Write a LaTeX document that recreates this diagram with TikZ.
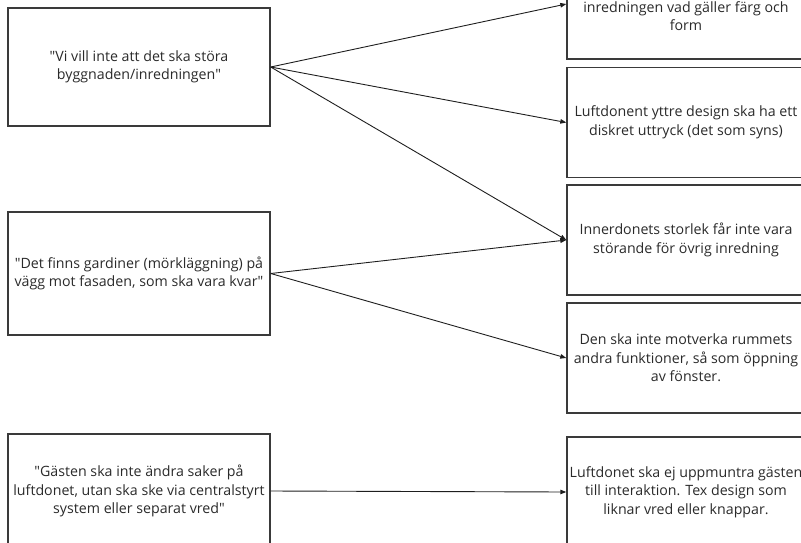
\documentclass[tikz,border=0pt]{standalone}
\usepackage{fontspec}
\setmainfont{Open Sans}
\usetikzlibrary{arrows.meta}
\definecolor{boxink}{HTML}{2A2A2A}
\definecolor{boxline}{HTML}{3A3A3A}
\definecolor{linkink}{HTML}{1E1E1E}
\tikzset{
  quotetext/.style={font=\fontsize{14.2}{18.5}\selectfont, text=boxink, align=center},
  quotebox/.style={quotetext, draw=boxline, line width=1.4pt, inner sep=0pt,
    minimum width=262pt, minimum height=118pt},
  needbox/.style={quotebox, minimum width=238pt, minimum height=110pt},
  needlink/.style={-{Triangle[length=6pt,width=4.5pt]}, draw=linkink, line width=.9pt}
}
\begin{document}
\begin{tikzpicture}[x=1pt,y=-1pt]
  \useasboundingbox (0,0) rectangle (801,542);
  \clip (0,0) rectangle (801,542);

  % quotes
  \node[quotebox] (q1) at (139,67)
    {\textquotedbl Vi vill inte att det ska störa\\byggnaden/inredningen\textquotedbl};
  \node[quotebox, minimum height=123pt] (q2) at (139,273.5)
    {\textquotedbl Det finns gardiner (mörkläggning) på\\vägg mot fasaden, som ska vara kvar\textquotedbl};
  \node[quotebox, minimum height=114pt] (q3) at (139,491)
    {\textquotedbl Gästen ska inte ändra saker på\\luftdonet, utan ska ske via centralstyrt\\system eller separat vred\textquotedbl};

  % needs
  \node[needbox] (r1) at (686,4) {};
  \node[quotetext] (r1text) at (686,16) {inredningen vad gäller färg och\\form};
  \node[needbox] (r2) at (686,122.5) {Luftdonent yttre design ska ha ett\\diskret uttryck (det som syns)};
  \node[needbox] (r3) at (686,240) {Innerdonets storlek får inte vara\\störande för övrig inredning};
  \node[needbox] (r4) at (686,358) {Den ska inte motverka rummets\\andra funktioner, så som öppning\\av fönster.};
  \node[needbox] (r5) at (686,492) {Luftdonet ska ej uppmuntra gästen\\till interaktion. Tex design som\\liknar vred eller knappar.};

  \foreach \from/\to in {q1/r1,q1/r2,q1/r3,q2/r3,q2/r4,q3/r5}
    \draw[needlink] (\from.east) -- (\to.west);
\end{tikzpicture}
\end{document}
